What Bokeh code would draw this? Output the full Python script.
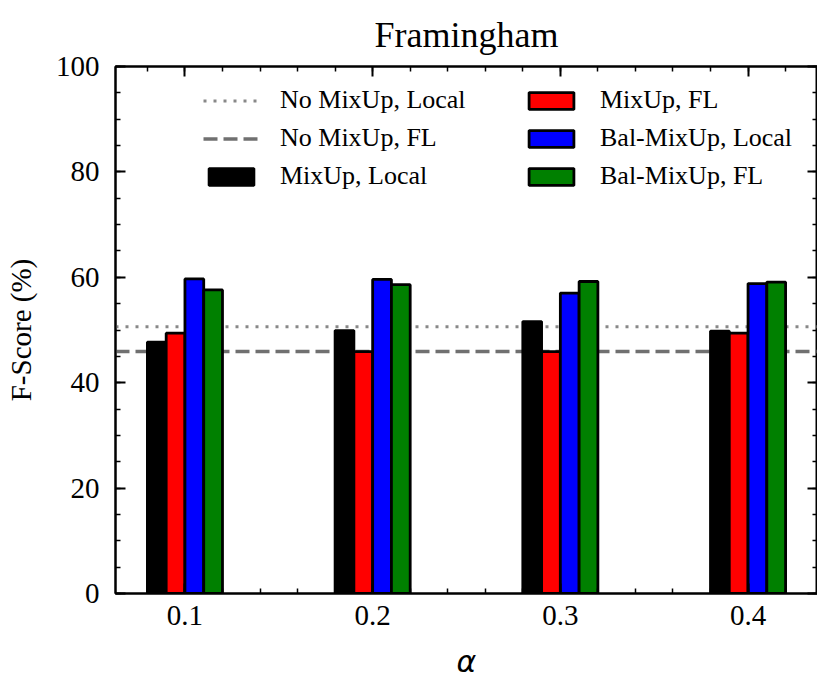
from bokeh.plotting import figure
from bokeh.models import (ColumnDataSource, Range1d, FixedTicker, LinearAxis,
                          Legend, LegendItem)
from bokeh.transform import dodge
from bokeh.embed import file_html
from bokeh.resources import INLINE

# ---- data ----
alphas = [0.1, 0.2, 0.3, 0.4]
tick_labels = ["0.1", "0.2", "0.3", "0.4"]
mixup_local = [47.7, 49.9, 51.6, 49.8]
mixup_fl = [49.4, 45.9, 45.9, 49.4]
bal_local = [59.7, 59.6, 57.0, 58.8]
bal_fl = [57.6, 58.6, 59.2, 59.1]
no_mixup_local = 50.6
no_mixup_fl = 45.9

SERIF = "Liberation Serif"

src = ColumnDataSource(dict(alpha=alphas, ml=mixup_local, mf=mixup_fl,
                            bl=bal_local, bf=bal_fl))

p = figure(width=830, height=686, output_backend="svg", toolbar_location=None,
           x_range=Range1d(0.063, 0.437), y_range=Range1d(0, 100),
           frame_width=702, frame_height=527)
p.min_border_left = 115
p.min_border_right = 0
p.min_border_top = 65
p.min_border_bottom = 94
p.grid.visible = False
p.outline_line_color = "black"
p.outline_line_width = 2
p.background_fill_color = "white"
p.border_fill_color = "white"

# baselines across the full x-range
xr = [0.063, 0.437]
l1 = p.line(x=xr, y=[no_mixup_local, no_mixup_local], line_color="#888888",
            line_width=3, line_dash="3 7")
l2 = p.line(x=xr, y=[no_mixup_fl, no_mixup_fl], line_color="#707070",
            line_width=3.5, line_dash="14 6")

w = 0.01
bar_kw = dict(width=w, source=src, line_color="black", line_width=2.8)
b1 = p.vbar(x=dodge("alpha", -1.5 * w), top="ml", fill_color="black", **bar_kw)
b2 = p.vbar(x=dodge("alpha", -0.5 * w), top="mf", fill_color="red", **bar_kw)
b3 = p.vbar(x=dodge("alpha", 0.5 * w), top="bl", fill_color="blue", **bar_kw)
b4 = p.vbar(x=dodge("alpha", 1.5 * w), top="bf", fill_color="green", **bar_kw)

# ---- axes ----
xt = FixedTicker(ticks=alphas,
                 minor_ticks=[round(0.06 + 0.02 * i, 2) for i in range(20)])
yt = FixedTicker(ticks=list(range(0, 101, 20)), minor_ticks=list(range(0, 101, 5)))

def style(ax, ticker, labels=True):
    ax.ticker = ticker
    ax.axis_line_width = 2
    ax.major_tick_in = 10
    ax.major_tick_out = 0
    ax.minor_tick_in = 5
    ax.minor_tick_out = 0
    ax.major_tick_line_width = 2
    ax.minor_tick_line_width = 1.5
    ax.major_label_text_font = SERIF
    ax.major_label_text_font_size = "29px"
    ax.major_label_text_color = "black"
    ax.axis_label_text_color = "black"
    if not labels:
        ax.major_label_text_font_size = "0px"
        ax.major_label_standoff = 0

xa = p.xaxis[0]
style(xa, xt)
xa.major_label_overrides = {a: t for a, t in zip(alphas, tick_labels)}
xa.major_label_standoff = 12
xa.axis_label = "α"
xa.axis_label_text_font = "DejaVu Sans"
xa.axis_label_text_font_style = "italic"
xa.axis_label_text_font_size = "30px"
xa.axis_label_standoff = 16

ya = p.yaxis[0]
style(ya, yt)
ya.major_label_standoff = 16
ya.axis_label = "F-Score (%)"
ya.axis_label_text_font = SERIF
ya.axis_label_text_font_style = "normal"
ya.axis_label_text_font_size = "29px"
ya.axis_label_standoff = 16

top_ax = LinearAxis()
style(top_ax, xt, labels=False)
p.add_layout(top_ax, "above")
right_ax = LinearAxis()
style(right_ax, yt, labels=False)
p.add_layout(right_ax, "right")

# ---- title ----
p.title.text = "Framingham"
p.title.text_font = SERIF
p.title.text_font_size = "36px"
p.title.text_font_style = "normal"
p.title.text_color = "black"
p.title.align = "center"
p.title.standoff = 24

# ---- legends ----
def make_legend(items, loc):
    lg = Legend(items=items, location=loc)
    lg.label_text_font = SERIF
    lg.label_text_font_size = "26px"
    lg.label_text_color = "black"
    lg.glyph_width = 56
    lg.glyph_height = 21
    lg.label_height = 21
    lg.spacing = 8
    lg.label_standoff = 21
    lg.padding = 0
    lg.margin = 0
    lg.border_line_color = None
    lg.background_fill_alpha = 0
    return lg

leg1 = make_legend([LegendItem(label="No MixUp, Local", renderers=[l1]),
                    LegendItem(label="No MixUp, FL", renderers=[l2]),
                    LegendItem(label="MixUp, Local", renderers=[b1])], (88, 402))
leg2 = make_legend([LegendItem(label="MixUp, FL", renderers=[b2]),
                    LegendItem(label="Bal-MixUp, Local", renderers=[b3]),
                    LegendItem(label="Bal-MixUp, FL", renderers=[b4])], (408, 402))
p.add_layout(leg1, "center")
p.add_layout(leg2, "center")

open("out.html", "w").write(file_html(p, INLINE))
